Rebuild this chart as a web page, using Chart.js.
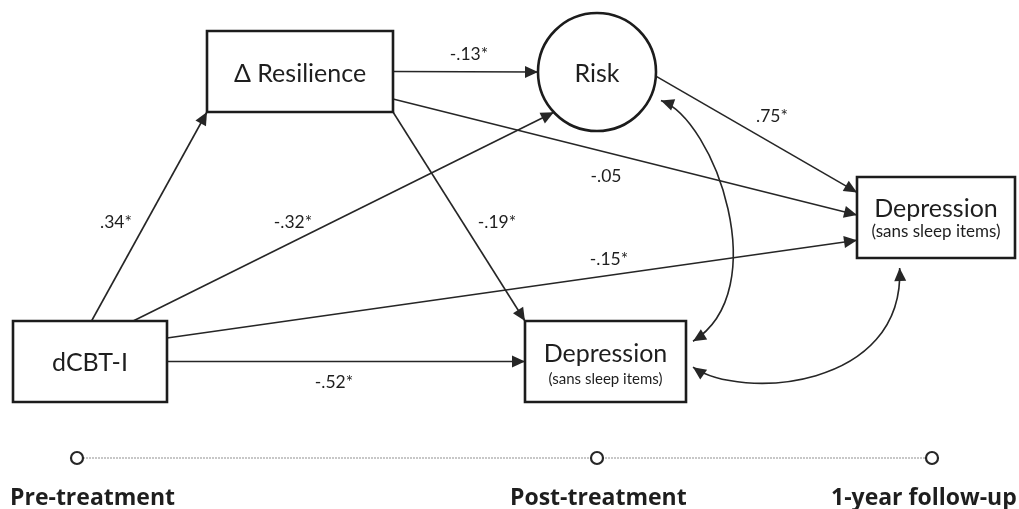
<!DOCTYPE html>
<html><head><meta charset="utf-8">
<script src="https://cdn.jsdelivr.net/npm/chart.js@4"></script>
<style>html,body{margin:0;padding:0;background:#fff}#wrap{width:1019px;height:509px;position:relative}</style>
</head><body><div id="wrap"><canvas id="c" width="1019" height="509"></canvas></div>
<script>
// ---- data ----
const nodeIds = ['res', 'dcbt', 'risk', 'dep2', 'dep1'];
const nodeLabels = ['Δ Resilience', 'dCBT-I', 'Risk', 'Depression', 'Depression'];
const nodeSubLabels = ['', '', '', '(sans sleep items)', '(sans sleep items)'];
const pathFrom = ['dcbt', 'res', 'dcbt', 'res', 'res', 'risk', 'dcbt', 'dcbt'];
const pathTo   = ['res', 'risk', 'risk', 'dep2', 'dep1', 'dep2', 'dep2', 'dep1'];
const pathCoef = ['.34*', '-.13*', '-.32*', '-.05', '-.19*', '.75*', '-.15*', '-.52*'];
const covFrom = ['risk', 'dep1'];
const covTo   = ['dep1', 'dep2'];
const timeLabels = ['Pre-treatment', 'Post-treatment', '1-year follow-up'];

// ---- layout (data units of the chart's scales) ----
const nodeLayout = {
  res:  {shape: 'rect', cx: 300, cy: 71.5, w: 186, h: 81, ty: 82, fs: 25},
  dcbt: {shape: 'rect', cx: 90, cy: 361.5, w: 154, h: 81, ty: 371, fs: 25},
  risk: {shape: 'circle', cx: 597, cy: 72, r: 59, ty: 82, fs: 25},
  dep2: {shape: 'rect', cx: 936, cy: 217.5, w: 158, h: 81, ty: 217, fs: 25, sy: 237, sfs: 17},
  dep1: {shape: 'rect', cx: 605.5, cy: 361.5, w: 161, h: 81, ty: 362, fs: 25, sy: 384, sfs: 15}
};
const pathAnchors = [
  [['top', 0.51], ['bottom', 0]],
  [['right', 0.5], ['angle', 180]],
  [['top', 0.78], ['angle', 137]],
  [['right', 0.84], ['left', 0.47]],
  [['bottom', 1], ['top', 0]],
  [['angle', 4], ['left', 0.19]],
  [['right', 0.21], ['left', 0.78]],
  [['right', 0.5], ['left', 0.5]]
];
const pathLabelPos = [[116, 228], [469, 60], [293, 228], [606, 182], [497, 228], [772, 122], [609, 265], [334, 388]];
const covAnchors = [
  [['angle', 24, 11], ['right', 0.25, 7]],
  [['right', 0.57, 7], ['bottom', 0.27, 10]]
];
const covControls = [
  [[715, 120], [775, 290]],
  [[740, 400], [905, 390]]
];
const timeX = [77, 597, 932];
const timeY = 458;
const timeLabelX = [10, 510, 831];
const timeLabelY = 505;

const INK = '#262626';

function anchorPoint(id, a) {
  const n = nodeLayout[id];
  const gap = a[2] || 0;
  if (n.shape === 'circle') {
    const ang = a[1] * Math.PI / 180;
    return {x: n.cx + (n.r + gap) * Math.cos(ang), y: n.cy + (n.r + gap) * Math.sin(ang)};
  }
  const x0 = n.cx - n.w / 2, x1 = n.cx + n.w / 2, y0 = n.cy - n.h / 2, y1 = n.cy + n.h / 2;
  const t = a[1];
  switch (a[0]) {
    case 'top': return {x: x0 + t * n.w, y: y0 - gap};
    case 'bottom': return {x: x0 + t * n.w, y: y1 + gap};
    case 'left': return {x: x0 - gap, y: y0 + t * n.h};
    default: return {x: x1 + gap, y: y0 + t * n.h};
  }
}

const datasets = [];
pathFrom.forEach((f, i) => {
  const a = anchorPoint(f, pathAnchors[i][0]);
  const b = anchorPoint(pathTo[i], pathAnchors[i][1]);
  datasets.push({label: pathCoef[i], data: [a, b], showLine: true, borderColor: INK, borderWidth: 1.6,
    pointRadius: 0, fill: false, tension: 0});
});
datasets.push({label: 'time', data: timeX.map(x => ({x: x, y: timeY})), showLine: true,
  borderColor: '#8f8f8f', borderWidth: 1, borderDash: [2, 1], pointRadius: 6, pointHoverRadius: 6,
  pointBackgroundColor: '#fff', pointBorderColor: INK, pointBorderWidth: 2.2});

function arrowHead(ctx, tip, from) {
  const ang = Math.atan2(tip.y - from.y, tip.x - from.x);
  const L = 13, W = 6;
  ctx.save();
  ctx.translate(tip.x, tip.y); ctx.rotate(ang);
  ctx.beginPath(); ctx.moveTo(0, 0); ctx.lineTo(-L, -W); ctx.lineTo(-L, W); ctx.closePath();
  ctx.fillStyle = INK; ctx.fill();
  ctx.restore();
}

const diagram = {
  id: 'diagram',
  afterDatasetsDraw(chart) {
    const ctx = chart.ctx, xs = chart.scales.x, ys = chart.scales.y;
    const P = p => ({x: xs.getPixelForValue(p.x), y: ys.getPixelForValue(p.y)});
    const sx = v => xs.getPixelForValue(v) - xs.getPixelForValue(0);
    chart.data.datasets.forEach((ds, i) => {
      if (i >= pathFrom.length) return;
      arrowHead(ctx, P(ds.data[1]), P(ds.data[0]));
    });
    covFrom.forEach((f, i) => {
      const a = P(anchorPoint(f, covAnchors[i][0]));
      const b = P(anchorPoint(covTo[i], covAnchors[i][1]));
      const c1 = P({x: covControls[i][0][0], y: covControls[i][0][1]});
      const c2 = P({x: covControls[i][1][0], y: covControls[i][1][1]});
      ctx.save();
      ctx.strokeStyle = INK; ctx.lineWidth = 1.6;
      ctx.beginPath(); ctx.moveTo(a.x, a.y); ctx.bezierCurveTo(c1.x, c1.y, c2.x, c2.y, b.x, b.y); ctx.stroke();
      ctx.restore();
      arrowHead(ctx, a, c1); arrowHead(ctx, b, c2);
    });
    nodeIds.forEach((id, i) => {
      const n = nodeLayout[id];
      const c = P({x: n.cx, y: n.cy});
      ctx.save();
      ctx.lineWidth = 2.6; ctx.strokeStyle = '#1c1c1c'; ctx.fillStyle = '#fff';
      ctx.beginPath();
      if (n.shape === 'circle') ctx.arc(c.x, c.y, sx(n.r), 0, Math.PI * 2);
      else ctx.rect(c.x - sx(n.w) / 2, c.y - sx(n.h) / 2, sx(n.w), sx(n.h));
      ctx.fill(); ctx.stroke();
      ctx.fillStyle = '#1e1e1e'; ctx.textAlign = 'center'; ctx.textBaseline = 'alphabetic';
      ctx.font = n.fs + 'px Lato';
      ctx.fillText(nodeLabels[i], c.x, ys.getPixelForValue(n.ty));
      if (nodeSubLabels[i]) {
        ctx.font = n.sfs + 'px Lato';
        ctx.fillText(nodeSubLabels[i], c.x, ys.getPixelForValue(n.sy));
      }
      ctx.restore();
    });
    ctx.save();
    ctx.fillStyle = '#1e1e1e'; ctx.textAlign = 'center'; ctx.textBaseline = 'alphabetic';
    ctx.font = '17.5px Lato';
    pathCoef.forEach((t, i) => {
      const p = P({x: pathLabelPos[i][0], y: pathLabelPos[i][1]});
      ctx.fillText(t, p.x, p.y);
    });
    ctx.textAlign = 'left';
    ctx.font = 'bold 23px "Open Sans"';
    timeLabels.forEach((t, i) => {
      ctx.fillText(t, xs.getPixelForValue(timeLabelX[i]), ys.getPixelForValue(timeLabelY));
    });
    ctx.restore();
  }
};

new Chart(document.getElementById('c'), {
  type: 'scatter',
  data: {datasets: datasets},
  options: {
    responsive: false, animation: false, devicePixelRatio: 1,
    layout: {padding: 0, autoPadding: false},
    plugins: {legend: {display: false}, tooltip: {enabled: false}},
    scales: {
      x: {type: 'linear', min: 0, max: 1019, display: false},
      y: {type: 'linear', min: 0, max: 509, reverse: true, display: false}
    }
  },
  plugins: [diagram]
});
</script></body></html>
